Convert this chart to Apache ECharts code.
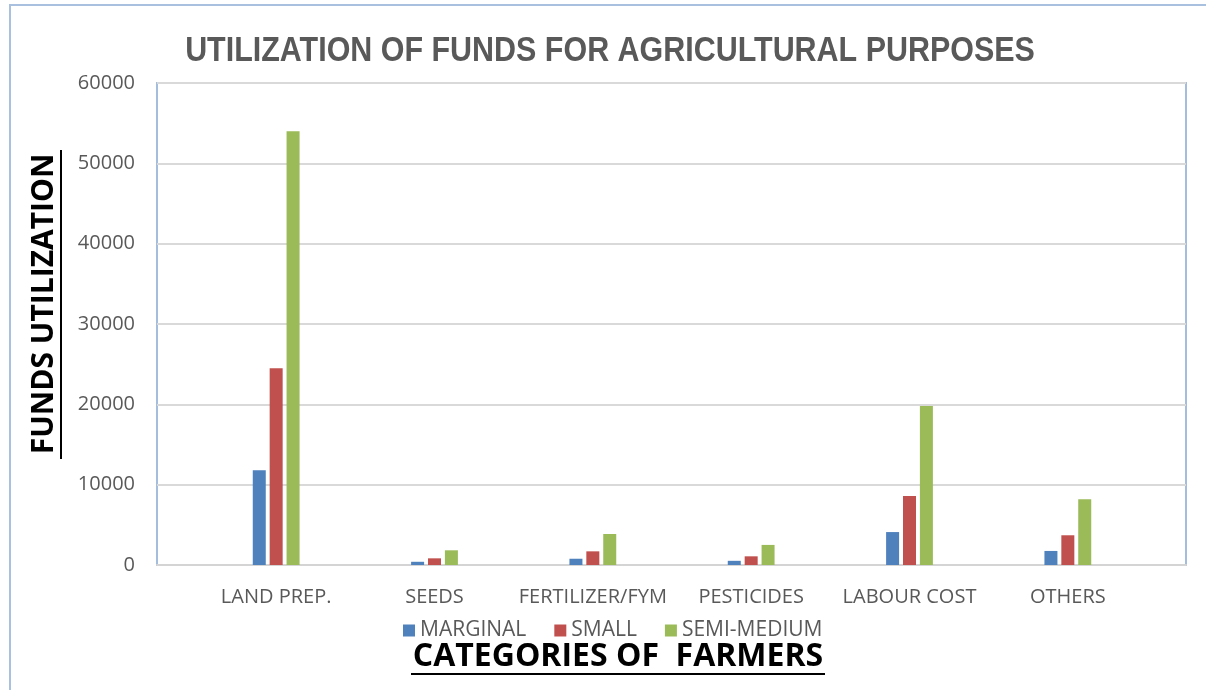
<!DOCTYPE html>
<html>
<head>
<meta charset="utf-8">
<script src="https://cdn.jsdelivr.net/npm/echarts@6/dist/echarts.min.js"></script>
<style>
  html, body { margin: 0; padding: 0; background: #fff; }
  #chart { width: 1206px; height: 690px; }
</style>
</head>
<body>
<div id="chart"></div>
<script>
// Spending categories along the x axis
const categories = ['LAND PREP.', 'SEEDS', 'FERTILIZER/FYM', 'PESTICIDES', 'LABOUR COST', 'OTHERS'];
// Funds used by each farmer group
const marginal   = [11800, 400, 780, 520, 4100, 1750];
const small      = [24500, 830, 1700, 1080, 8600, 3700];
const semiMedium = [54000, 1830, 3860, 2500, 19800, 8200];
const seriesNames = ['MARGINAL', 'SMALL', 'SEMI-MEDIUM'];
const seriesColors = ['#4f81bd', '#c0504d', '#9bbb59'];
// Value axis range
const yMin = 0, yMax = 60000, yStep = 10000;

const chart = echarts.init(document.getElementById('chart'), null, { renderer: 'canvas' });

const boldFont = '"Open Sans", "Liberation Sans", sans-serif';
const plainFont = '"Open Sans", sans-serif';

const barSeries = [marginal, small, semiMedium].map((vals, i) => ({
  name: seriesNames[i],
  type: 'bar',
  xAxisIndex: 1,
  yAxisIndex: 1,
  data: vals,
  barWidth: 13,
  barGap: '30%',
  itemStyle: { color: seriesColors[i] },
  emphasis: { disabled: true }
}));

chart.setOption({
  animation: false,
  backgroundColor: '#ffffff',
  legend: {
    data: seriesNames,
    left: 398,
    top: 615,
    itemWidth: 12,
    itemHeight: 12,
    itemGap: 28,
    icon: 'rect',
    textStyle: {
      color: '#595959',
      fontFamily: plainFont,
      fontSize: 21
    }
  },
  grid: [
    // plot frame with value gridlines
    {
      left: 157, right: 20, top: 83, bottom: 125,
      show: true,
      borderColor: '#a5bddd',
      borderWidth: 2
    },
    // inner band where the category groups sit
    {
      left: 197, right: 59, top: 83, bottom: 125
    }
  ],
  xAxis: [
    {
      gridIndex: 0,
      type: 'category',
      data: categories,
      axisTick: { show: false },
      axisLabel: { show: false },
      axisLine: { lineStyle: { color: '#d4d4d4', width: 2 } }
    },
    {
      gridIndex: 1,
      type: 'category',
      data: categories,
      axisTick: { show: false },
      axisLine: { show: false },
      axisLabel: {
        interval: 0,
        color: '#595959',
        fontFamily: plainFont,
        fontSize: 20,
        margin: 22
      }
    }
  ],
  yAxis: [
    {
      gridIndex: 0,
      type: 'value',
      min: yMin,
      max: yMax,
      interval: yStep,
      axisLine: { show: false },
      axisTick: { show: false },
      splitLine: { lineStyle: { color: '#d9d9d9', width: 2 } },
      axisLabel: {
        color: '#595959',
        fontFamily: plainFont,
        fontSize: 20,
        margin: 22,
        formatter: v => String(v)
      }
    },
    {
      gridIndex: 1,
      type: 'value',
      min: yMin,
      max: yMax,
      interval: yStep,
      show: false,
      splitLine: { show: false }
    }
  ],
  series: barSeries,
  graphic: [
    // outer frame of the chart area
    {
      type: 'rect',
      shape: { x: 10, y: 5, width: 1210, height: 700 },
      style: { fill: 'none', stroke: '#a9c0df', lineWidth: 2 },
      silent: true
    },
    // chart title, set in a condensed bold face
    {
      type: 'text',
      x: 610,
      y: 51,
      scaleX: 0.87,
      style: {
        text: 'UTILIZATION OF FUNDS FOR AGRICULTURAL PURPOSES',
        fill: '#595959',
        font: 'bold 35px "Liberation Sans", sans-serif',
        textAlign: 'center',
        textVerticalAlign: 'middle'
      },
      silent: true
    },
    // vertical axis title with underline
    {
      type: 'text',
      x: 44,
      y: 304,
      rotation: Math.PI / 2,
      style: {
        text: 'FUNDS UTILIZATION',
        fill: '#000',
        font: 'bold 30px ' + boldFont,
        textAlign: 'center',
        textVerticalAlign: 'middle'
      },
      silent: true
    },
    {
      type: 'line',
      shape: { x1: 61, y1: 150, x2: 61, y2: 459 },
      style: { stroke: '#000', lineWidth: 2 },
      silent: true
    },
    // horizontal axis title with underline
    {
      type: 'text',
      x: 618,
      y: 657,
      style: {
        text: 'CATEGORIES OF  FARMERS',
        fill: '#000',
        font: 'bold 32px ' + boldFont,
        textAlign: 'center',
        textVerticalAlign: 'middle'
      },
      silent: true
    },
    {
      type: 'line',
      shape: { x1: 411, y1: 674, x2: 825, y2: 674 },
      style: { stroke: '#000', lineWidth: 2 },
      silent: true
    }
  ]
});
</script>
</body>
</html>
